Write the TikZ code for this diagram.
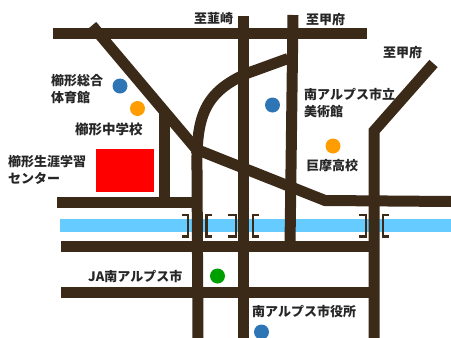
\documentclass[tikz,border=0pt]{standalone}
\usepackage{fontspec}
\newfontfamily\cjk{Noto Sans CJK JP}
\definecolor{road}{HTML}{3B2A18}
\definecolor{river}{HTML}{66CCFF}
\definecolor{bluedot}{HTML}{2E75B6}
\definecolor{orangedot}{HTML}{FF9D00}
\definecolor{greendot}{HTML}{009F00}
\tikzset{
  x=1pt,y=-1pt,
  roadline/.style={draw=road,line width=11pt,line join=miter},
  bridgeline/.style={draw=road,line width=2.6pt},
  dot/.style={circle,minimum size=15pt,inner sep=0pt,fill=#1},
  lab/.style={inner sep=0pt,font=\cjk\bfseries\fontsize{13}{17}\selectfont,text=black!85},
  labl/.style={lab,align=left,anchor=west}
}
\begin{document}
\begin{tikzpicture}
\useasboundingbox (0,0) rectangle (451,338);
% river
\fill[river] (60,219) rectangle (451,232);
% roads
\draw[roadline] (53,33.5) -- (367,33.5);
\draw[roadline] (57,202.5) -- (197,202.5);
\draw[roadline] (61,246) -- (375,246);
\draw[roadline] (61,292.5) -- (375,292.5);
\draw[roadline] (92,25.5) -- (197,150);
\draw[roadline] (164,113) -- (164,202);
\draw[roadline] (198,338) -- (197,170) .. controls (196,115) and (205,92) .. (248,73) -- (288,58.5);
\draw[roadline] (243,16) -- (243,338);
\draw[roadline] (293,15) -- (290,246);
\draw[roadline] (193,148) -- (325,200.5) -- (451,201.5);
\draw[roadline] (374,338) -- (374,131) -- (433.5,63.5);
% bridges
\foreach \a/\b in {182/188,228/236,359/366}
  \draw[bridgeline] (\a,215) -- (\b,215) -- (\b,236.5) -- (\a,236.5);
\foreach \a/\b in {212/206.5,259/253,389/383}
  \draw[bridgeline] (\a,215) -- (\b,215) -- (\b,236.5) -- (\a,236.5);
% facilities
\fill[red] (96,149) rectangle (154,192);
\node[dot=bluedot] (d1) at (120,86) {};
\node[dot=orangedot] (d2) at (137.5,108.5) {};
\node[dot=bluedot] (d3) at (272.5,105) {};
\node[dot=orangedot] (d4) at (333,146) {};
\node[dot=greendot] (d5) at (217.5,276) {};
\node[dot=bluedot] (d6) at (261.5,332) {};
% labels
\node[lab] (t1) at (213.5,19) {至韮崎};
\node[labl] (t2) at (306,20) {至甲府};
\node[labl] (t3) at (383,53) {至甲府};
\node[labl] (t4) at (51,89) {櫛形総合\\体育館};
\node[labl,font=\cjk\bfseries\fontsize{13.5}{17}\selectfont] (t5) at (75,129) {櫛形中学校};
\node[labl] (t6) at (8,170) {櫛形生涯学習\\センター};
\node[labl] (t7) at (304,103) {南アルプス市立\\美術館};
\node[labl] (t8) at (306,166) {巨摩高校};
\node[labl] (t9) at (88,276) {JA南アルプス市};
\node[labl] (t10) at (252,312) {南アルプス市役所};
\end{tikzpicture}
\end{document}
